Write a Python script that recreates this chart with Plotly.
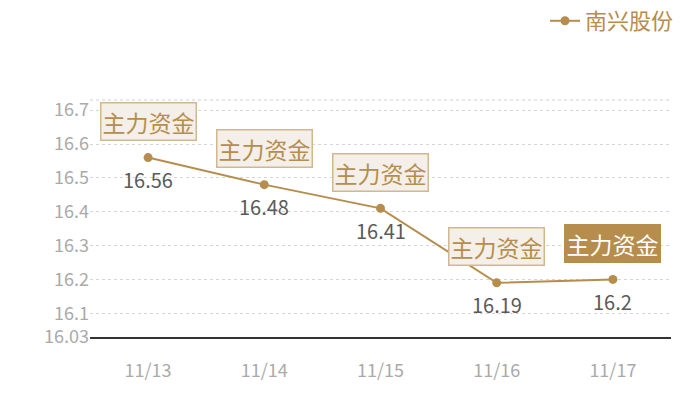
import plotly.graph_objects as go

dates = ["11/13", "11/14", "11/15", "11/16", "11/17"]
prices = [16.56, 16.48, 16.41, 16.19, 16.2]
price_labels = ["16.56", "16.48", "16.41", "16.19", "16.2"]
flag_text = ["主力资金", "主力资金", "主力资金", "主力资金", "主力资金"]
series_name = "南兴股份"
ytick_vals = [16.03, 16.1, 16.2, 16.3, 16.4, 16.5, 16.6, 16.7]
ytick_text = ["16.03", "16.1", "16.2", "16.3", "16.4", "16.5", "16.6", "16.7"]

GOLD = "#b68d4c"
FONT = "Noto Sans CJK SC"

fig = go.Figure()
fig.add_trace(go.Scatter(
    x=dates, y=prices, mode="lines+markers",
    name=series_name,
    line=dict(color=GOLD, width=2),
    marker=dict(color=GOLD, size=9),
    cliponaxis=False,
))

for i, (d, p, t, lab) in enumerate(zip(dates, prices, flag_text, price_labels)):
    last = i == len(dates) - 1
    fig.add_annotation(
        x=d, y=p, text=t, showarrow=True, arrowcolor="rgba(0,0,0,0)",
        ax=0, ay=-36, xanchor="center", yanchor="middle",
        font=dict(size=23, family=FONT, color="#ffffff" if last else GOLD),
        bgcolor=GOLD if last else "#f4efe8",
        bordercolor=GOLD if last else "#d2b88e",
        borderwidth=1.5, borderpad=1,
    )
    fig.add_annotation(
        x=d, y=p, text=lab, showarrow=True, arrowcolor="rgba(0,0,0,0)",
        ax=0, ay=22, xanchor="center", yanchor="middle",
        font=dict(size=20, family=FONT, color="#5a5a5a"),
    )

fig.add_shape(type="line", xref="paper", yref="paper", x0=0, x1=1, y0=1, y1=1,
              line=dict(color="#d0d0d0", width=1, dash="dot"))

fig.update_layout(
    width=700, height=400,
    margin=dict(l=90, r=29, t=100, b=63, autoexpand=False),
    paper_bgcolor="white", plot_bgcolor="white",
    font=dict(family=FONT),
    showlegend=True,
    legend=dict(xref="container", yref="container", x=0.97, xanchor="right",
                y=1.0, yanchor="top",
                font=dict(size=22, color=GOLD, family=FONT),
                bgcolor="rgba(0,0,0,0)", itemwidth=30),
    xaxis=dict(type="category", range=[-0.5, 4.5], showgrid=False,
               showline=True, linecolor="#333333", linewidth=1.5,
               ticks="", tickfont=dict(size=18, color="#aaaaaa", family=FONT),
               ticklabelstandoff=17, zeroline=False),
    yaxis=dict(range=[16.03, 16.73], tickvals=ytick_vals, ticktext=ytick_text,
               showgrid=True, gridcolor="#d5d5d5", griddash="dot", gridwidth=1,
               showline=False, zeroline=False, ticks="",
               tickfont=dict(size=18, color="#aaaaaa", family=FONT)),
)

fig.write_html("out.html", config={"displayModeBar": False},
               post_script="document.body.style.margin='0';")
